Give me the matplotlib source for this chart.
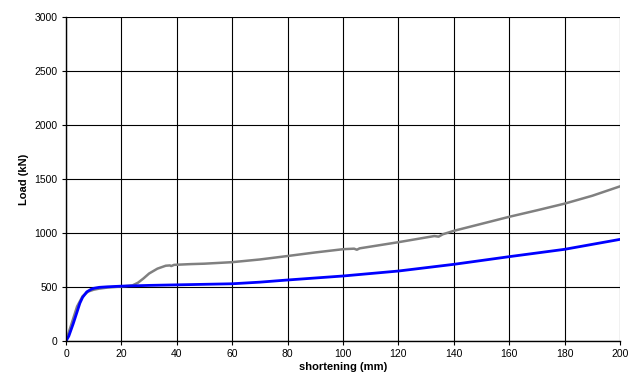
import matplotlib
matplotlib.use("Agg")
import matplotlib.pyplot as plt

plt.rcParams['font.family'] = ['Liberation Sans', 'DejaVu Sans']

# gray test curve
gray_x = [0, 2, 4, 6, 8, 10, 12, 15, 20, 24, 26, 28, 30, 33, 36, 37.5, 38, 39, 45, 50,
          60, 70, 80, 90, 100, 104, 105, 106, 120, 133, 134.5, 136, 140, 150,
          160, 170, 180, 190, 200]
gray_y = [0, 160, 320, 415, 458, 475, 485, 495, 505, 515, 540, 580, 625, 670, 697,
          700, 694, 705, 712, 716, 730, 755, 787, 820, 850, 855, 845, 858, 915,
          972, 966, 988, 1020, 1085, 1150, 1210, 1272, 1345, 1432]

# blue model curve
blue_x = [0, 1, 2.6, 4, 5, 6, 7.5, 9, 10, 12, 15, 20, 30, 40, 60, 70, 80, 100,
          120, 140, 160, 180, 200]
blue_y = [0, 45, 160, 270, 350, 405, 455, 478, 488, 497, 502, 508, 515, 520, 530,
          545, 565, 602, 648, 710, 781, 849, 941]

fig = plt.figure(figsize=(6.31, 3.88), dpi=100)
ax = fig.add_axes([0.1046, 0.1211, 0.8780, 0.8351])

ax.plot(gray_x, gray_y, color='#808080', lw=1.8)
ax.plot(blue_x, blue_y, color='#0000FF', lw=2.0)

ax.set_xlim(0, 200)
ax.set_ylim(0, 3000)
ax.set_xticks(range(0, 201, 20))
ax.set_yticks(range(0, 3001, 500))
ax.grid(True, color='black', lw=0.8)
ax.set_axisbelow(True)
for s in ['top', 'right']:
    ax.spines[s].set_visible(False)
for s in ['left', 'bottom']:
    ax.spines[s].set_color('black')
    ax.spines[s].set_linewidth(1.0)
ax.tick_params(labelsize=7.5, length=3, width=0.8, direction='out', pad=3)

ax.set_xlabel('shortening (mm)', fontsize=8, fontweight='bold', labelpad=2)
ax.set_ylabel('Load (kN)', fontsize=8, fontweight='bold', labelpad=4)

plt.savefig('out.png', dpi=100)
